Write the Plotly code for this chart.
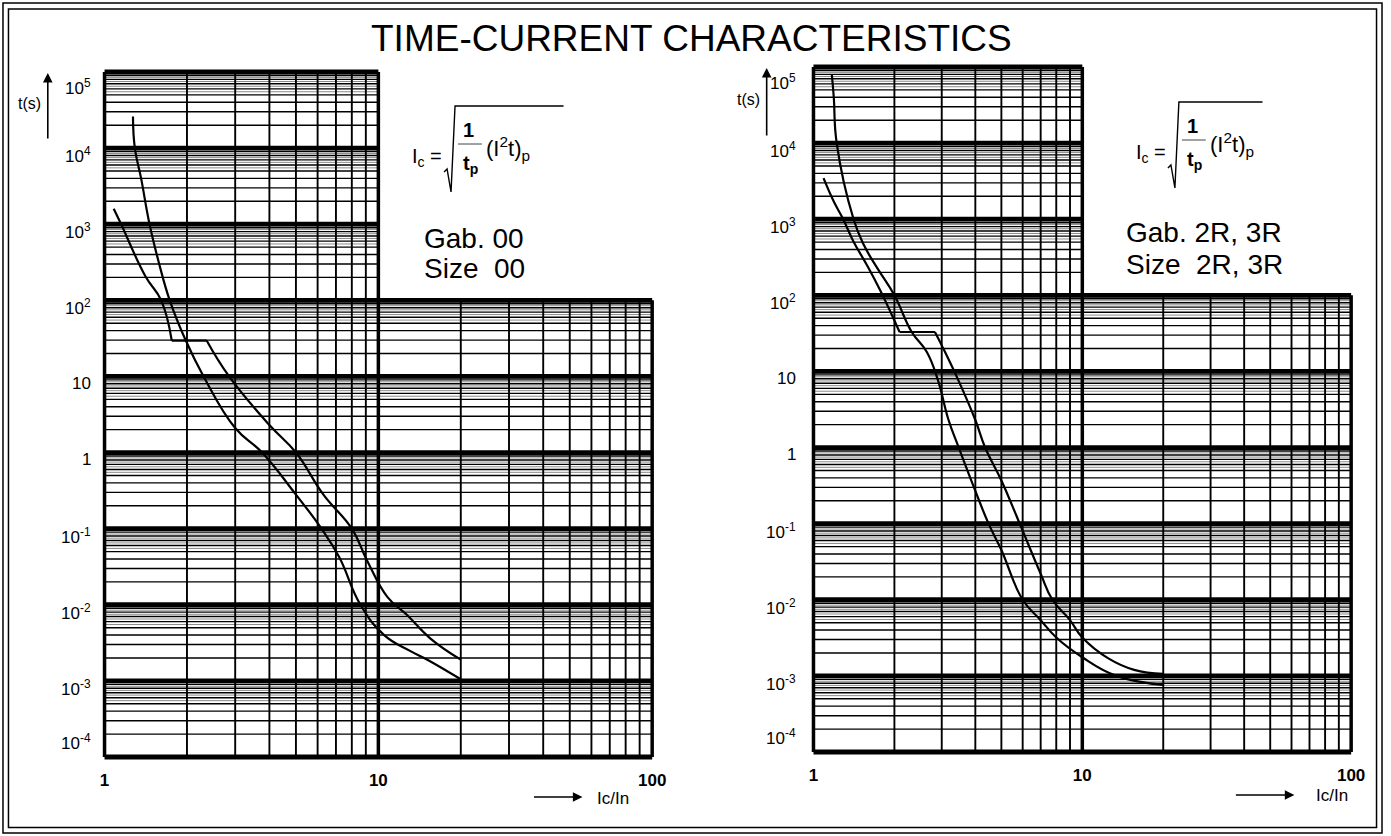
import math
import plotly.graph_objects as go

W, H = 1391, 836
FONT = "Liberation Sans, Arial, sans-serif"

# ---------------- data ----------------
x_ticks = [1, 10, 100]
x_tick_text = ["<b>1</b>", "<b>10</b>", "<b>100</b>"]
y_decades = [1e-4, 1e-3, 1e-2, 1e-1, 1, 10, 1e2, 1e3, 1e4, 1e5]
y_tick_text = ["10<sup>-4</sup>", "10<sup>-3</sup>", "10<sup>-2</sup>", "10<sup>-1</sup>",
               "1", "10", "10<sup>2</sup>", "10<sup>3</sup>", "10<sup>4</sup>", "10<sup>5</sup>"]
minor_mult = [2, 3, 4, 5, 6, 7, 8, 9]
band_mult = [5.5, 6.5, 7.5, 8.5, 9.5]
x_minor_a = [2, 3, 4, 5, 6, 7, 8, 9]
x_minor_b = [20, 30, 40, 50, 60, 70, 80, 90]
x_split = 10      # upper block of grid ends at Ic/In = 10
y_split = 100     # lower block of grid ends at t = 100 s

# Size 00 (left chart)
L_A_x = [1.27, 1.29, 1.36, 1.46, 1.58, 1.73, 1.98, 2.3, 3.0, 3.76, 5.0, 6.2, 7.2, 8.6, 10.5, 13.0, 15.1, 20.0]
L_A_y = [2.6e4, 1e4, 4e3, 1e3, 310, 100, 29.6, 10, 2.1, 1.0, 0.28, 0.1, 0.042, 0.01, 0.004, 0.0025, 0.0019, 0.00105]
L_B_x = [1.08, 1.15, 1.41, 1.61, 1.76, 2.36, 2.85, 4.0, 5.0, 6.3, 8.0, 9.1, 10.8, 12.7, 15.5, 20.0]
L_B_y = [1600, 1000, 207, 100, 29.6, 29.6, 10, 2.3, 1.0, 0.28, 0.1, 0.038, 0.0126, 0.0074, 0.0036, 0.0019]

# Size 2R, 3R (right chart)
R_A_x = [1.17, 1.19, 1.22, 1.41, 1.54, 1.73, 2.0, 2.32, 2.64, 2.9, 3.18, 3.47, 4.0, 4.48, 5.0, 6.0, 7.0, 8.0, 10.0, 13.4, 20.0]
R_A_y = [8e4, 4e4, 1e4, 1e3, 457, 226, 100, 33, 18, 7.8, 2.3, 1.0, 0.27, 0.1, 0.045, 0.01, 0.0054, 0.0032, 0.00176, 0.001, 0.00076]
R_B_x = [1.09, 1.19, 1.29, 1.41, 1.58, 1.78, 2.09, 2.83, 3.0, 3.45, 4.0, 4.35, 5.0, 5.85, 7.0, 7.74, 9.0, 10.0, 12.5, 15.6, 20.0]
R_B_y = [3470, 1710, 1000, 506, 250, 112, 33, 33, 22, 7.8, 2.3, 1.0, 0.37, 0.1, 0.022, 0.01, 0.0054, 0.0032, 0.0017, 0.0012, 0.00106]

title_text = "TIME-CURRENT CHARACTERISTICS"

# ---------------- layout geometry (pixels) ----------------
panels = [
    dict(xa="x", ya="y", px0=105, px1=655, pyt=72, pyb=757, curves=[(L_A_x, L_A_y), (L_B_x, L_B_y)],
         lab_right=93, gab="Gab. 00", size="Size  00", text_x=424, gab_y=238, size_y=268,
         tx=30, ty=104, arr_x=48, arr_top=73, arr_bot=140,
         xarr=(535, 585, 797), xlab=(616, 798),
         f=dict(ox=0, oy=0, over_end=566)),
    dict(xa="x2", ya="y2", px0=817, px1=1357, pyt=67, pyb=752, curves=[(R_A_x, R_A_y), (R_B_x, R_B_y)],
         lab_right=801, gab="Gab. 2R, 3R", size="Size  2R, 3R", text_x=1129, gab_y=232, size_y=264,
         tx=752, ty=100, arr_x=770, arr_top=68, arr_bot=137,
         xarr=(1240, 1300, 795), xlab=(1338, 795),
         f=dict(ox=727, oy=-4, over_end=1268)),
]
PADX, PADY = 0.03, 0.06


def P(px, py):
    return px / W, 1 - py / H


def text_ann(px, py, text, size, xanchor="center", yanchor="middle", **kw):
    x, y = P(px, py)
    d = dict(x=x, y=y, xref="paper", yref="paper", text=text, showarrow=False,
             xanchor=xanchor, yanchor=yanchor, font=dict(size=size, family=FONT, color="black"))
    d.update(kw)
    return d


fig = go.Figure()
layout_axes = {}
annotations = []
shapes = []

for i, pn in enumerate(panels):
    dx = (pn["px1"] - pn["px0"]) / 2.0
    dy = (pn["pyb"] - pn["pyt"]) / 9.0
    xd = [(pn["px0"] - PADX * dx) / W, (pn["px1"] + PADX * dx) / W]
    yd = [1 - (pn["pyb"] + PADY * dy) / H, 1 - (pn["pyt"] - PADY * dy) / H]
    xname = "xaxis" if i == 0 else "xaxis2"
    yname = "yaxis" if i == 0 else "yaxis2"
    layout_axes[xname] = dict(type="log", range=[-PADX, 2 + PADX], domain=xd, showgrid=False,
                              zeroline=False, showline=False, ticks="", tickvals=x_ticks,
                              ticktext=x_tick_text, tickfont=dict(size=17, family=FONT, color="black"),
                              ticklabelstandoff=6, anchor=pn["ya"], fixedrange=True)
    layout_axes[yname] = dict(type="log", range=[-4 - PADY, 5 + PADY], domain=yd, showgrid=False,
                              zeroline=False, showline=False, showticklabels=False, ticks="",
                              anchor=pn["xa"], fixedrange=True)

    def add_segments(segs, width, color):
        xs, ys = [], []
        for (x0, x1, y0, y1) in segs:
            xs += [x0, x1, None]
            ys += [y0, y1, None]
        fig.add_trace(go.Scatter(x=xs, y=ys, mode="lines", line=dict(color=color, width=width),
                                 xaxis=pn["xa"], yaxis=pn["ya"], hoverinfo="skip", showlegend=False))

    ymin, ymax = y_decades[0], y_decades[-1]
    xmax = x_ticks[-1]

    def hspan(y):
        return (1, x_split) if y > y_split * 1.0001 else (1, xmax)

    band = []
    for base in y_decades[:-1]:
        for m in band_mult:
            y = m * base
            a, b = hspan(y)
            band.append((a, b, y, y))
    add_segments(band, 1, "#8a8a8a")
    minor = []
    for base in y_decades[:-1]:
        for m in minor_mult:
            y = m * base
            a, b = hspan(y)
            minor.append((a, b, y, y))
    add_segments(minor, 1.4, "black")
    vert = [(x, x, ymin, ymax) for x in x_minor_a] + [(x, x, ymin, y_split) for x in x_minor_b]
    add_segments(vert, 1.9, "black")
    thick = []
    for y in y_decades:
        a, b = hspan(y)
        thick.append((a, b, y, y))
    add_segments(thick, 4.8, "black")
    frame = [(1, 1, ymin, ymax), (x_split, x_split, ymin, ymax), (xmax, xmax, ymin, y_split)]
    add_segments(frame, 3.5, "black")

    # characteristic curves: smooth parts as splines, the flat shelf as a straight line
    for cx, cy in pn["curves"]:
        cuts = [0]
        for k in range(len(cy) - 1):
            if cy[k] == cy[k + 1]:
                cuts += [k, k + 1]
        cuts.append(len(cy) - 1)
        for s in range(0, len(cuts) - 1):
            a, b = cuts[s], cuts[s + 1]
            if b <= a:
                continue
            is_shelf = (b == a + 1 and cy[a] == cy[b])
            fig.add_trace(go.Scatter(x=cx[a:b + 1], y=cy[a:b + 1], mode="lines",
                                     line=dict(color="black", width=2.2,
                                               shape="linear" if is_shelf else "spline",
                                               smoothing=1.25),
                                     xaxis=pn["xa"], yaxis=pn["ya"], hoverinfo="skip",
                                     showlegend=False))

    # y tick labels
    for k, (val, txt) in enumerate(zip(y_decades, y_tick_text)):
        e = math.log10(val)
        if k == len(y_decades) - 1:
            ya, ys = "top", -2
        elif k == 0:
            ya, ys = "bottom", 2
        else:
            ya, ys = "middle", -7
        annotations.append(dict(x=pn["lab_right"] / W, xref="paper", y=e, yref=pn["ya"],
                                text=txt, showarrow=False, xanchor="right", yanchor=ya, yshift=ys,
                                font=dict(size=17, family=FONT, color="black")))

    # axis titles with arrows
    annotations.append(text_ann(pn["tx"], pn["ty"], "t(s)", 16))
    hx, hy = P(pn["arr_x"], pn["arr_top"])
    annotations.append(dict(x=hx, y=hy, xref="paper", yref="paper", text="", showarrow=True,
                            ax=0, ay=pn["arr_bot"] - pn["arr_top"], arrowhead=2, arrowsize=1.2,
                            arrowwidth=1.6, arrowcolor="black"))
    xa0, xa1, xay = pn["xarr"]
    hx, hy = P(xa1, xay)
    annotations.append(dict(x=hx, y=hy, xref="paper", yref="paper", text="", showarrow=True,
                            ax=xa0 - xa1, ay=0, arrowhead=2, arrowsize=1.2, arrowwidth=1.6,
                            arrowcolor="black"))
    annotations.append(text_ann(pn["xlab"][0], pn["xlab"][1], "Ic/In", 17))

    # Gab / Size labels
    annotations.append(text_ann(pn["text_x"], pn["gab_y"], pn["gab"], 28, xanchor="left"))
    annotations.append(text_ann(pn["text_x"], pn["size_y"], pn["size"], 28, xanchor="left"))

    # formula  Ic = sqrt( 1/tp (I^2 t)p )
    f = pn["f"]
    ox, oy = f["ox"], f["oy"]
    annotations.append(text_ann(446 + ox, 157 + oy, "I<sub>c</sub> =", 20, xanchor="right"))
    pts = [(446 + ox, 172 + oy), (449 + ox, 169 + oy), (453 + ox, 192 + oy), (457 + ox, 106 + oy),
           (f["over_end"], 106 + oy)]
    path = "M " + " L ".join("%.5f,%.5f" % P(px, py) for px, py in pts)
    shapes.append(dict(type="path", path=path, xref="paper", yref="paper",
                       line=dict(color="black", width=1.4)))
    bx0, by0 = P(460 + ox, 144 + oy)
    bx1, by1 = P(484 + ox, 144 + oy)
    shapes.append(dict(type="line", x0=bx0, y0=by0, x1=bx1, y1=by1, xref="paper", yref="paper",
                       line=dict(color="#444", width=1)))
    annotations.append(text_ann(471 + ox, 130 + oy, "<b>1</b>", 20))
    annotations.append(text_ann(473 + ox, 164 + oy, "<b>t<sub>p</sub></b>", 20))
    annotations.append(text_ann(486 + ox, 148 + oy, "(I<sup>2</sup>t)<sub>p</sub>", 22, xanchor="left"))

# title
annotations.append(text_ann(694, 39, title_text, 37))

# double frame around the page
for (a, b, c, d) in [(3, 3, 1388, 833), (8.5, 9, 1382.5, 827.5)]:
    x0, y0 = P(a, b)
    x1, y1 = P(c, d)
    shapes.append(dict(type="rect", x0=x0, y0=y1, x1=x1, y1=y0, xref="paper", yref="paper",
                       line=dict(color="black", width=1.5), fillcolor="rgba(0,0,0,0)"))

fig.update_layout(width=W, height=H, margin=dict(l=0, r=0, t=0, b=0), paper_bgcolor="white",
                  plot_bgcolor="rgba(0,0,0,0)", showlegend=False, annotations=annotations,
                  shapes=shapes, **layout_axes)
fig.write_html("out.html")
